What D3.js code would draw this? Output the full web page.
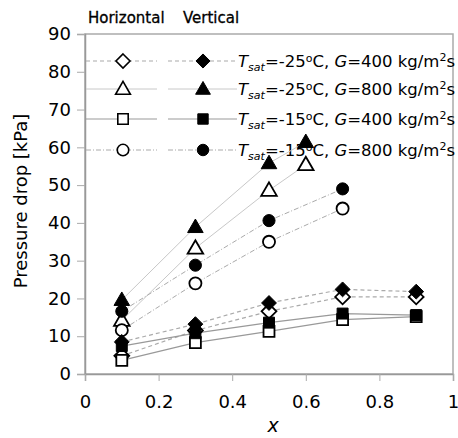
<!DOCTYPE html>
<html><head><meta charset="utf-8">
<script src="https://cdn.jsdelivr.net/npm/d3@7"></script>
<style>body{margin:0;background:#fff}text{font-family:"DejaVu Sans",Verdana,sans-serif}</style>
</head><body><svg id="c" width="458" height="438"></svg>
<script>
const xTicks = [0, 0.2, 0.4, 0.6, 0.8, 1];
const xTickLabels = ["0", "0.2", "0.4", "0.6", "0.8", "1"];
const yTicks = [0, 10, 20, 30, 40, 50, 60, 70, 80, 90];

const seriesNames = ["m25_400", "m25_800", "m15_400", "m15_800"];
const legendT = ["-25", "-25", "-15", "-15"];
const legendG = ["400", "800", "400", "800"];
const symbolsUsed = ["diamond", "triangle", "square", "circle"];

// Horizontal (open markers)
const hX_m25_400 = [0.1, 0.3, 0.5, 0.7, 0.9];
const hY_m25_400 = [4.8, 11.5, 16.6, 20.4, 20.4];
const hX_m25_800 = [0.1, 0.3, 0.5, 0.6];
const hY_m25_800 = [14.2, 33.3, 48.6, 55.4];
const hX_m15_400 = [0.1, 0.3, 0.5, 0.7, 0.9];
const hY_m15_400 = [3.6, 8.3, 11.3, 14.4, 15.2];
const hX_m15_800 = [0.1, 0.3, 0.5, 0.7];
const hY_m15_800 = [11.6, 24.0, 35.0, 43.8];
// Vertical (filled markers)
const vX_m25_400 = [0.1, 0.3, 0.5, 0.7, 0.9];
const vY_m25_400 = [8.5, 13.2, 18.8, 22.4, 21.8];
const vX_m25_800 = [0.1, 0.3, 0.5, 0.6];
const vY_m25_800 = [19.6, 38.9, 55.8, 61.4];
const vX_m15_400 = [0.1, 0.3, 0.5, 0.7, 0.9];
const vY_m15_400 = [7.4, 10.8, 13.6, 16.0, 15.6];
const vX_m15_800 = [0.1, 0.3, 0.5, 0.7];
const vY_m15_800 = [16.6, 28.8, 40.6, 49.0];

const horiz = [[hX_m25_400,hY_m25_400],[hX_m25_800,hY_m25_800],[hX_m15_400,hY_m15_400],[hX_m15_800,hY_m15_800]];
const vert = [[vX_m25_400,vY_m25_400],[vX_m25_800,vY_m25_800],[vX_m15_400,vY_m15_400],[vX_m15_800,vY_m15_800]];

const svg = d3.select("#c");
const L = 85, R = 453, T = 34, B = 374;
const x = d3.scaleLinear().domain([0,1]).range([L,R]);
const y = d3.scaleLinear().domain([0,90]).range([B,T]);

const lineStyle = [
  {stroke:"#aaa", dash:"4,3", w:1.2},
  {stroke:"#c8c8c8", dash:null, w:1},
  {stroke:"#999", dash:null, w:1.2},
  {stroke:"#aaa", dash:"5,2,1,2", w:1}
];
const squareDiamond = {draw(ctx, size){const r=Math.sqrt(size/2);ctx.moveTo(0,-r);ctx.lineTo(r,0);ctx.lineTo(0,r);ctx.lineTo(-r,0);ctx.closePath();}};
const symTypes = {diamond:squareDiamond, triangle:d3.symbolTriangle, square:d3.symbolSquare, circle:d3.symbolCircle};
const symSize = {diamond:110, triangle:105, square:120, circle:115};

// plot box
svg.append("rect").attr("x",L).attr("y",T).attr("width",R-L).attr("height",B-T)
  .attr("fill","#fff").attr("stroke","#aaa").attr("stroke-width",1.5);

// y axis
const ya = svg.append("g").attr("transform",`translate(${L},0)`)
  .call(d3.axisLeft(y).tickValues(yTicks).tickSize(8).tickPadding(6));
ya.select(".domain").attr("stroke","#999").attr("stroke-width",1.5);
ya.selectAll(".tick line").attr("stroke","#aaa");
ya.selectAll(".tick text").attr("font-size",18).attr("fill","#000");

// x axis
const xa = svg.append("g").attr("transform",`translate(0,${B})`)
  .call(d3.axisBottom(x).tickValues(xTicks).tickFormat((d,i)=>xTickLabels[i]).tickSize(7).tickPadding(14));
xa.select(".domain").attr("stroke","#999").attr("stroke-width",1.5);
xa.selectAll(".tick line").attr("stroke","#aaa");
xa.selectAll(".tick text").attr("font-size",18).attr("fill","#000");

svg.append("text").attr("x",273).attr("y",432).attr("text-anchor","middle")
  .attr("font-size",19).attr("font-style","italic").text("x");
svg.append("text").attr("transform","translate(27,201) rotate(-90)").attr("text-anchor","middle")
  .attr("font-size",18).text("Pressure drop [kPa]");

// header
svg.append("text").attr("x",88).attr("y",23).attr("font-size",15).attr("stroke","#000").attr("stroke-width",0.3).text("Horizontal");
svg.append("text").attr("x",183).attr("y",23).attr("font-size",15).attr("stroke","#000").attr("stroke-width",0.3).text("Vertical");

// legend
const rowsY = [61, 89, 119, 150];
seriesNames.forEach((s,i)=>{
  const ls = lineStyle[i], ry = rowsY[i];
  [[86,157,123,false],[168,237,203,true]].forEach(([a,b,m,filled])=>{
    svg.append("line").attr("x1",a).attr("x2",b).attr("y1",ry).attr("y2",ry)
      .attr("stroke",ls.stroke).attr("stroke-width",ls.w).attr("stroke-dasharray",ls.dash);
    const sym = symbolsUsed[i];
    svg.append("path").attr("d",d3.symbol().type(symTypes[sym]).size(symSize[sym]*0.9)())
      .attr("transform",`translate(${m},${ry + (sym==="triangle"?1:0)})`)
      .attr("fill",filled?"#000":"#fff").attr("stroke","#000").attr("stroke-width",filled?1:1.6);
  });
  const t = svg.append("text").attr("x",238).attr("y",ry+6).attr("font-size",16.5);
  t.append("tspan").attr("font-style","italic").text("T");
  t.append("tspan").attr("font-style","italic").attr("font-size",11).attr("dy",4).text("sat");
  t.append("tspan").attr("dy",-4).text("=" + legendT[i]);
  t.append("tspan").attr("font-size",11).attr("dy",-5).text("o");
  t.append("tspan").attr("dy",5).text("C, ");
  t.append("tspan").attr("font-style","italic").text("G");
  t.append("tspan").text("=" + legendG[i] + " kg/m");
  t.append("tspan").attr("font-size",11).attr("dy",-6).text("2");
  t.append("tspan").attr("dy",6).text("s");
});

// data lines
const line = d3.line().x(d=>x(d[0])).y(d=>y(d[1]));
function pts(xs,ys){return xs.map((v,j)=>[v,ys[j]]);}
[horiz, vert].forEach(group=>{
  group.forEach(([xs,ys],i)=>{
    const ls = lineStyle[i];
    svg.append("path").attr("d",line(pts(xs,ys))).attr("fill","none")
      .attr("stroke",ls.stroke).attr("stroke-width",ls.w).attr("stroke-dasharray",ls.dash);
  });
});
// markers: horizontal first, then vertical
[[horiz,false],[vert,true]].forEach(([group,filled])=>{
  group.forEach(([xs,ys],i)=>{
    const sym = symbolsUsed[i];
    svg.append("g").selectAll("path").data(pts(xs,ys)).join("path")
      .attr("d",d3.symbol().type(symTypes[sym]).size(symSize[sym])())
      .attr("transform",d=>`translate(${x(d[0])},${y(d[1]) + (sym==="triangle"?1:0)})`)
      .attr("fill",filled?"#000":"#fff").attr("stroke","#000").attr("stroke-width",filled?1:1.8);
  });
});
</script></body></html>
